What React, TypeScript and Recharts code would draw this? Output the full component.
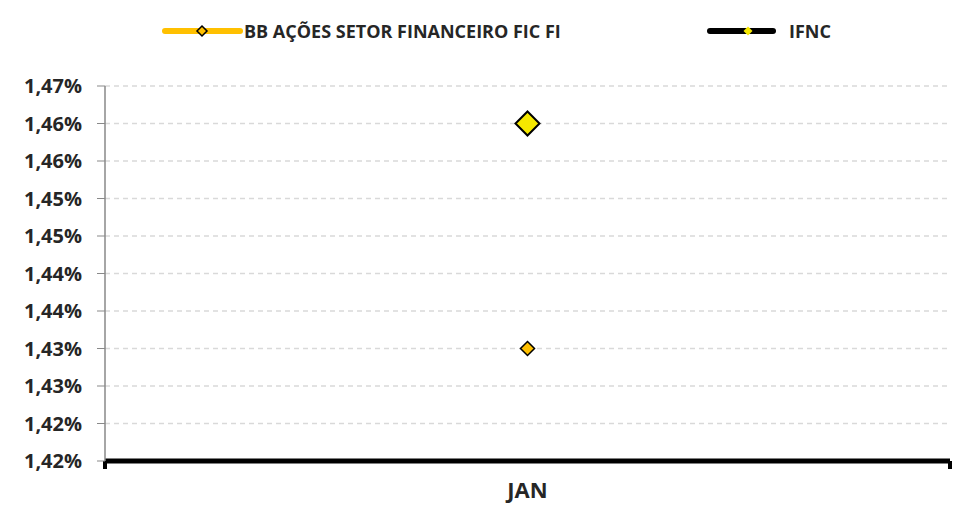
import { CartesianGrid, Legend, Line, LineChart, ReferenceLine, XAxis, YAxis } from 'recharts'

const months = ['JAN']
const fundReturns = [1.435]
const ifncReturns = [1.465]

const yTicks = [1.42, 1.425, 1.43, 1.435, 1.44, 1.445, 1.45, 1.455, 1.46, 1.465, 1.47]
const yTickLabels = [
  '1,42%',
  '1,42%',
  '1,43%',
  '1,43%',
  '1,44%',
  '1,44%',
  '1,45%',
  '1,45%',
  '1,46%',
  '1,46%',
  '1,47%',
]

const FUND_NAME = 'BB AÇÕES SETOR FINANCEIRO FIC FI'
const INDEX_NAME = 'IFNC'

const chartData = months.map((month, i) => ({
  month,
  fund: fundReturns[i],
  ifnc: ifncReturns[i],
}))

const FONT = '"Open Sans", "Liberation Sans", sans-serif'
const GOLD = '#FFC000'
const YELLOW = '#F5E800'
const TEXT = '#262626'

const diamond = (cx: number, cy: number, r: number) =>
  `M${cx},${cy - r}L${cx + r},${cy}L${cx},${cy + r}L${cx - r},${cy}Z`

const FundDot = (props: any) => (
  <path d={diamond(props.cx, props.cy, 7)} fill={GOLD} stroke="#000" strokeWidth={1.5} />
)

const IfncDot = (props: any) => (
  <path d={diamond(props.cx, props.cy, 12)} fill={YELLOW} stroke="#000" strokeWidth={2} />
)

// thick black base line with the small end ticks Excel puts at the category edges
const AxisBase = (p: any) => (
  <g>
    <line x1={p.x1} y1={p.y1} x2={p.x2} y2={p.y2} stroke="#000" strokeWidth={5} />
    <rect x={p.x1 - 2} y={p.y1} width={4} height={8} fill="#000" />
    <rect x={p.x2 - 2} y={p.y2} width={4} height={8} fill="#000" />
  </g>
)

function ChartLegend() {
  return (
    <div
      style={{
        position: 'relative',
        height: 86,
        fontFamily: FONT,
        fontWeight: 700,
        fontSize: 18,
        color: TEXT,
      }}
    >
      <div style={{ position: 'absolute', left: 162, top: 19, display: 'flex', alignItems: 'center' }}>
        <svg width={82} height={24}>
          <line x1={3} y1={12} x2={78} y2={12} stroke={GOLD} strokeWidth={6} strokeLinecap="round" />
          <path d={diamond(40, 12, 5)} fill={GOLD} stroke="#000" strokeWidth={1.5} />
        </svg>
        <span style={{ whiteSpace: 'nowrap' }}>{FUND_NAME}</span>
      </div>
      <div style={{ position: 'absolute', left: 707, top: 19, display: 'flex', alignItems: 'center' }}>
        <svg width={82} height={24}>
          <line x1={3} y1={12} x2={66} y2={12} stroke="#000" strokeWidth={6} strokeLinecap="round" />
          <path d={diamond(41, 12, 4.5)} fill={YELLOW} />
        </svg>
        <span style={{ whiteSpace: 'nowrap' }}>{INDEX_NAME}</span>
      </div>
    </div>
  )
}

export default function App() {
  return (
    <div style={{ position: 'absolute', left: 0, top: 0, background: '#fff' }}>
      <LineChart
        width={959}
        height={506}
        data={chartData}
        margin={{ top: 0, right: 9, bottom: 0, left: 0 }}
      >
        <Legend verticalAlign="top" content={ChartLegend} />
        <CartesianGrid
          vertical={false}
          stroke="#D9D9D9"
          strokeDasharray="5 4"
          strokeWidth={1.5}
        />
        <XAxis
          dataKey="month"
          height={45}
          axisLine={false}
          tickLine={false}
          tickMargin={15}
          tick={{ fill: TEXT, fontSize: 22, fontWeight: 700, fontFamily: FONT }}
        />
        <YAxis
          type="number"
          width={105}
          domain={[1.42, 1.47]}
          ticks={yTicks}
          interval={0}
          tickFormatter={(v: number) => yTickLabels[yTicks.indexOf(v)]}
          tickSize={8}
          tickMargin={15}
          stroke="#898989"
          axisLine={{ stroke: '#898989', strokeWidth: 1.5 }}
          tick={{ fill: TEXT, fontSize: 20, fontWeight: 700, fontFamily: FONT }}
        />
        <ReferenceLine y={yTicks[0]} shape={AxisBase} />
        <Line
          type="linear"
          dataKey="fund"
          name={FUND_NAME}
          stroke={GOLD}
          strokeWidth={5}
          dot={FundDot}
          activeDot={false}
          isAnimationActive={false}
        />
        <Line
          type="linear"
          dataKey="ifnc"
          name={INDEX_NAME}
          stroke="#000"
          strokeWidth={5}
          dot={IfncDot}
          activeDot={false}
          isAnimationActive={false}
        />
      </LineChart>
    </div>
  )
}
